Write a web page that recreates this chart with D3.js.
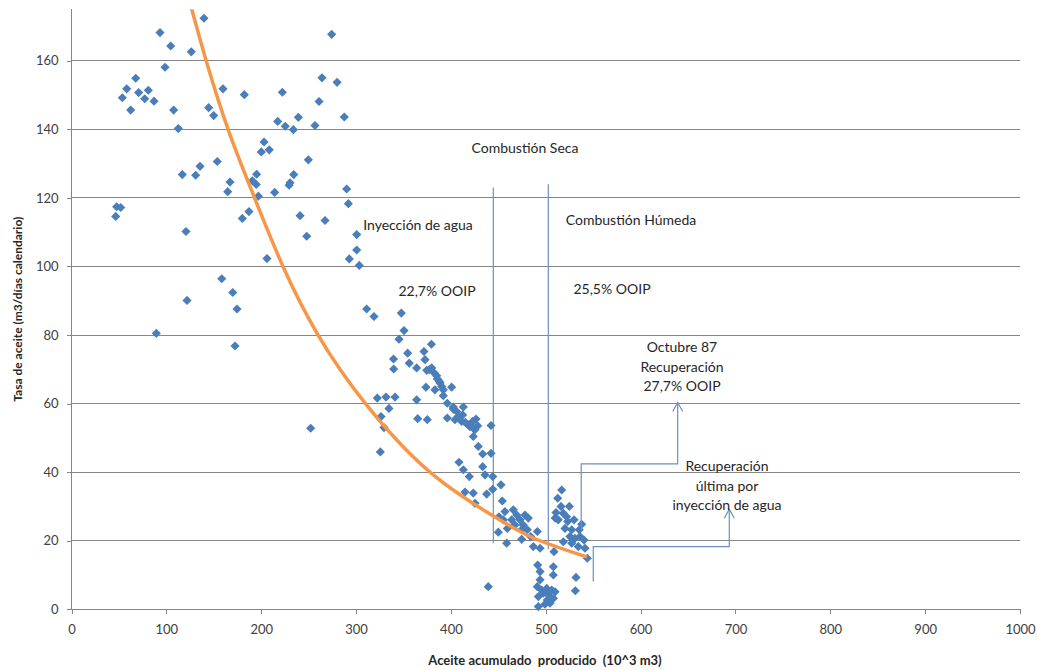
<!DOCTYPE html>
<html><head><meta charset="utf-8">
<script src="https://cdn.jsdelivr.net/npm/d3@7"></script>
<style>
html,body{margin:0;padding:0;background:#fff;}
svg{display:block;font-family:Lato,"Open Sans",sans-serif;}
</style></head>
<body>
<svg id="chart" width="1037" height="670"></svg>
<script>
// ---- data ----
const cumOil = [139.7,93.3,274.3,104.6,126.3,98.6,67.7,264.1,280.0,58.2,159.7,222.3,182.2,70.8,81.0,53.6,77.2,87.0,261.0,62.4,107.7,144.6,149.9,239.2,287.6,112.6,217.4,225.4,233.9,256.7,203.0,208.5,200.1,153.7,249.7,135.5,130.9,116.8,195.2,234.3,167.1,190.6,194.8,230.4,229.4,164.7,214.2,197.0,290.1,291.9,46.6,47.6,51.9,120.7,180.1,187.1,241.0,267.3,248.0,300.7,206.1,292.9,300.7,303.4,158.4,170.0,121.8,174.5,89.4,172.4,252.2,311.2,318.9,
347.7,350.6,345.3,354.4,356.1,339.5,339.7,322.4,331.6,341.1,334.7,326.3,329.5,325.6,379.5,371.6,372.7,363.9,374.5,379.8,377.2,382.5,385.0,385.7,388.5,373.7,383.2,387.8,392.0,390.3,400.8,392.0,396.2,363.9,365.0,375.1,402.5,406.1,407.8,404.3,396.2,413.1,412.4,402.5,415.2,418.4,423.0,423.6,428.2,420.1,426.5,411.4,425.4,442.3,423.6,428.9,433.5,442.3,433.5,436.0,444.1,408.5,413.1,419.4,414.9,423.6,425.4,437.7,444.1,452.8,454.2,439.4,
450.7,457.0,455.3,450.0,459.5,458.8,465.8,469.4,464.1,472.9,467.6,476.3,478.1,481.6,474.6,480.6,474.6,484.1,486.9,491.1,494.0,491.5,494.0,494.0,491.1,495.7,492.2,501.0,497.4,502.7,506.3,509.8,501.6,504.5,492.2,499.2,508.0,508.0,508.0,508.7,531.9,531.2,516.8,512.6,516.1,524.9,510.8,518.5,510.0,513.2,522.0,523.1,520.3,529.8,527.4,537.9,535.4,530.8,525.5,536.1,540.3,527.4,534.3,541.4,543.8,518.5];
const oilRate = [172.4,168.2,167.7,164.3,162.6,158.1,154.9,155.0,153.7,151.8,151.8,150.8,150.1,150.7,151.4,149.2,148.9,148.2,148.1,145.6,145.6,146.3,144.0,143.5,143.6,140.2,142.3,140.9,139.9,141.1,136.3,134.0,133.4,130.6,131.1,129.2,126.6,126.8,126.9,126.8,124.6,125.0,123.9,124.4,123.7,121.8,121.6,120.5,122.6,118.3,114.6,117.4,117.2,110.2,114.0,116.0,114.8,113.4,108.8,109.3,102.3,102.2,104.8,100.3,96.4,92.4,90.1,87.6,80.5,76.8,52.8,87.6,85.4,
86.4,81.3,78.8,74.7,71.8,73.0,70.1,61.6,61.9,61.9,58.6,56.2,53.0,45.9,77.3,75.2,72.8,70.4,69.7,70.4,69.9,68.9,68.1,67.2,66.0,64.8,64.0,66.5,64.0,65.0,64.8,62.3,60.1,61.1,55.6,55.3,59.0,57.7,56.2,55.3,55.8,59.0,56.7,58.4,54.5,53.8,54.8,52.8,53.5,53.3,55.5,54.8,52.4,53.6,50.4,47.5,45.3,45.5,41.6,39.2,38.7,42.9,40.7,38.7,34.2,33.9,30.9,33.6,35.0,36.3,31.6,6.6,
27.0,28.5,26.1,22.5,23.6,19.3,29.0,27.5,26.1,26.1,24.6,24.6,27.5,26.6,23.2,23.2,20.4,21.2,18.3,22.7,17.8,12.9,11.0,8.6,6.6,5.6,3.7,6.1,4.7,4.2,5.6,5.1,2.7,1.8,0.8,1.5,3.2,12.4,10.0,16.8,9.3,5.4,34.8,32.4,30.0,30.0,28.2,28.0,26.6,26.1,27.0,25.6,23.6,26.1,23.2,24.8,23.2,20.7,21.2,21.2,20.2,19.3,18.3,17.8,14.9,19.7];

// trend line
const trendX = [118,142,167,193,223,260,310,378,443,487,542];
const trendY = [184,160,138.5,120,100,80,60,40,27.5,20.8,15.4];

const xTicks = [0,100,200,300,400,500,600,700,800,900,1000];
const yTicks = [0,20,40,60,80,100,120,140,160];

// annotation texts
const labelTexts = {
  seca: ["Combustión Seca"],
  iny: ["Inyección de agua"],
  hum: ["Combustión Húmeda"],
  p227: ["22,7% OOIP"],
  p255: ["25,5% OOIP"],
  oct: ["Octubre 87","Recuperación","27,7% OOIP"],
  ult: ["Recuperación","última por","inyección de agua"]
};
// annotation anchor points in data units
const phaseLines = [[444.7,123,19.3],[502.7,124,17.5]];
const arrowOct = [[537.4,23],[537.4,42.4],[639.1,42.4],[639.1,60.3]];
const arrowUlt = [[550.1,8.1],[550.1,18.3],[693.5,18.3],[693.5,29.2]];

// ---- chart ----
const svg = d3.select("#chart");
const L=71.5, R=1020, T=9.3, B=609.3;
const x = d3.scaleLinear().domain([0,1000]).range([L,R]);
const y = d3.scaleLinear().domain([0,175]).range([B,T]);
const gridCol="#868686", txtCol="#404040", blue="#4a7ebb", annCol="#6b8fc4";

// gridlines
svg.append("g").selectAll("line").data(yTicks.filter(d=>d>0)).join("line")
  .attr("x1",L).attr("x2",R).attr("y1",d=>y(d)).attr("y2",d=>y(d))
  .attr("stroke",gridCol).attr("stroke-width",1).attr("shape-rendering","crispEdges");

// axes
const xAxis = svg.append("g").attr("transform",`translate(0,${B})`)
  .call(d3.axisBottom(x).tickValues(xTicks).tickSize(5).tickPadding(10).tickFormat(d3.format("d")));
const yAxis = svg.append("g").attr("transform",`translate(${L},0)`)
  .call(d3.axisLeft(y).tickValues(yTicks).tickSize(5).tickPadding(8).tickFormat(d3.format("d")));
yAxis.select(".domain").attr("d",`M0,${B}V${T}`);
xAxis.select(".domain").attr("d",`M${L},0H${R}`);
[xAxis,yAxis].forEach(g=>{
  g.select(".domain").attr("stroke",gridCol).attr("shape-rendering","crispEdges");
  g.selectAll(".tick line").attr("stroke",gridCol).attr("shape-rendering","crispEdges");
  g.selectAll(".tick text").attr("fill",txtCol).attr("font-size",13).attr("font-family","Lato,sans-serif");
});

// phase lines
svg.append("g").selectAll("line").data(phaseLines).join("line")
  .attr("x1",d=>x(d[0])).attr("x2",d=>x(d[0])).attr("y1",d=>y(d[1])).attr("y2",d=>y(d[2]))
  .attr("stroke",annCol).attr("stroke-width",1.2);

// points
const pts = cumOil.map((v,i)=>[v,oilRate[i]]);
const sym = d3.symbol().type(d3.symbolSquare).size(42);
svg.append("g").selectAll("path").data(pts).join("path")
  .attr("d",sym)
  .attr("transform",d=>`translate(${x(d[0])},${y(d[1])}) rotate(45)`)
  .attr("fill",blue);

// trend line (clipped to plot)
svg.append("clipPath").attr("id","clip").append("rect").attr("x",L).attr("y",T).attr("width",R-L).attr("height",B-T);
const trend = trendX.map((v,i)=>[v,trendY[i]]);
svg.append("path").datum(trend).attr("clip-path","url(#clip)")
  .attr("d",d3.line().x(d=>x(d[0])).y(d=>y(d[1])).curve(d3.curveNatural))
  .attr("fill","none").attr("stroke","#f79646").attr("stroke-width",3.5).attr("stroke-linecap","round");

// arrows
function arrow(p){
  svg.append("path").datum(p)
    .attr("d",d3.line().x(d=>x(d[0])).y(d=>y(d[1])))
    .attr("fill","none").attr("stroke",annCol).attr("stroke-width",1.2);
  const tip=p[p.length-1], tx=x(tip[0]), ty=y(tip[1]);
  svg.append("path").attr("d",`M${tx-5},${ty+9}L${tx},${ty}L${tx+5},${ty+9}`)
    .attr("fill","none").attr("stroke",annCol).attr("stroke-width",1.2);
}
arrow(arrowOct); arrow(arrowUlt);

// annotation labels
function label(lines, cx, cy, lh){
  const t = svg.append("text").attr("text-anchor","middle").attr("fill","#262626")
    .attr("font-size",14).attr("font-family","Lato,sans-serif");
  lines.forEach((s,i)=>t.append("tspan").attr("x",cx).attr("y",cy+i*lh).text(s));
}
label(labelTexts.seca, 525, 153, 0);
label(labelTexts.iny, 418, 230, 0);
label(labelTexts.hum, 631, 225, 0);
label(labelTexts.p227, 437, 296, 0);
label(labelTexts.p255, 612, 294, 0);
label(labelTexts.oct, 682, 352, 19.7);
label(labelTexts.ult, 727, 471, 19.7);

// axis titles
svg.append("text").attr("x",545).attr("y",665).attr("text-anchor","middle")
  .attr("font-size",13).attr("font-weight","bold").attr("fill","#262626")
  .attr("xml:space","preserve")
  .text("Aceite acumulado  producido  (10^3 m3)");
svg.append("text").attr("transform",`translate(22,${(T+B)/2}) rotate(-90)`).attr("text-anchor","middle")
  .attr("font-size",12).attr("font-weight","bold").attr("fill","#262626")
  .text("Tasa de aceite (m3/días calendario)");
</script>
</body></html>
